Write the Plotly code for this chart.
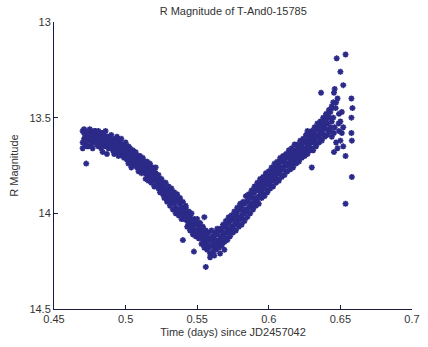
import plotly.graph_objects as go

# Dense light-curve band: times (days since JD2457042) and three magnitude samples per time
t_band = [
    0.470, 0.471, 0.472, 0.473, 0.474, 0.475, 0.476, 0.477, 0.478, 0.479,
    0.480, 0.481, 0.482, 0.483, 0.484, 0.485, 0.486, 0.487, 0.488, 0.489,
    0.490, 0.491, 0.492, 0.493, 0.494, 0.495, 0.496, 0.497, 0.498, 0.499,
    0.500, 0.501, 0.502, 0.503, 0.504, 0.505, 0.506, 0.507, 0.508, 0.509,
    0.510, 0.511, 0.512, 0.513, 0.514, 0.515, 0.516, 0.517, 0.518, 0.519,
    0.520, 0.521, 0.522, 0.523, 0.524, 0.525, 0.526, 0.527, 0.528, 0.529,
    0.530, 0.531, 0.532, 0.533, 0.534, 0.535, 0.536, 0.537, 0.538, 0.539,
    0.540, 0.541, 0.542, 0.543, 0.544, 0.545, 0.546, 0.547, 0.548, 0.549,
    0.550, 0.551, 0.552, 0.553, 0.554, 0.555, 0.556, 0.557, 0.558, 0.559,
    0.560, 0.561, 0.562, 0.563, 0.564, 0.565, 0.566, 0.567, 0.568, 0.569,
    0.570, 0.571, 0.572, 0.573, 0.574, 0.575, 0.576, 0.577, 0.578, 0.579,
    0.580, 0.581, 0.582, 0.583, 0.584, 0.585, 0.586, 0.587, 0.588, 0.589,
    0.590, 0.591, 0.592, 0.593, 0.594, 0.595, 0.596, 0.597, 0.598, 0.599,
    0.600, 0.601, 0.602, 0.603, 0.604, 0.605, 0.606, 0.607, 0.608, 0.609,
    0.610, 0.611, 0.612, 0.613, 0.614, 0.615, 0.616, 0.617, 0.618, 0.619,
    0.620, 0.621, 0.622, 0.623, 0.624, 0.625, 0.626, 0.627, 0.628, 0.629,
    0.630, 0.631, 0.632, 0.633, 0.634, 0.635, 0.636, 0.637, 0.638, 0.639,
    0.640, 0.641, 0.642, 0.643, 0.644,
]
mag_a = [
    13.57, 13.61, 13.64, 13.60, 13.57, 13.62, 13.58, 13.61, 13.63, 13.59,
    13.62, 13.60, 13.63, 13.58, 13.61, 13.59, 13.65, 13.60, 13.63, 13.61,
    13.64, 13.62, 13.66, 13.61, 13.68, 13.63, 13.67, 13.65, 13.70, 13.64,
    13.70, 13.67, 13.69, 13.73, 13.68, 13.71, 13.69, 13.75, 13.72, 13.74,
    13.77, 13.72, 13.78, 13.75, 13.73, 13.80, 13.77, 13.81, 13.76, 13.82,
    13.78, 13.81, 13.85, 13.83, 13.82, 13.88, 13.86, 13.84, 13.90, 13.92,
    13.88, 13.92, 13.94, 13.90, 13.95, 13.92, 13.94, 13.98, 13.95, 14.00,
    14.01, 13.98, 14.00, 14.04, 14.02, 14.05, 14.03, 14.08, 14.06, 14.09,
    14.10, 14.07, 14.09, 14.12, 14.10, 14.13, 14.16, 14.11, 14.18, 14.13,
    14.14, 14.12, 14.18, 14.11, 14.16, 14.14, 14.12, 14.09, 14.15, 14.07,
    14.10, 14.13, 14.05, 14.09, 14.07, 14.03, 14.06, 14.01, 14.04, 14.02,
    13.98, 14.01, 13.99, 13.95, 13.98, 13.94, 13.97, 13.91, 13.95, 13.92,
    13.89, 13.92, 13.87, 13.91, 13.85, 13.88, 13.86, 13.83, 13.85, 13.88,
    13.80, 13.84, 13.79, 13.82, 13.77, 13.80, 13.78, 13.75, 13.77, 13.80,
    13.73, 13.75, 13.78, 13.71, 13.74, 13.69, 13.72, 13.70, 13.73, 13.67,
    13.70, 13.68, 13.65, 13.67, 13.70, 13.63, 13.66, 13.64, 13.61, 13.63,
    13.66, 13.59, 13.62, 13.60, 13.56, 13.59, 13.57, 13.54, 13.56, 13.59,
    13.51, 13.53, 13.57, 13.47, 13.52,
]
mag_b = [
    13.63, 13.58, 13.59, 13.62, 13.65, 13.59, 13.64, 13.60, 13.57, 13.62,
    13.58, 13.65, 13.59, 13.62, 13.64, 13.63, 13.61, 13.62, 13.66, 13.60,
    13.61, 13.67, 13.63, 13.65, 13.64, 13.66, 13.62, 13.69, 13.66, 13.68,
    13.66, 13.72, 13.65, 13.70, 13.72, 13.74, 13.73, 13.71, 13.76, 13.70,
    13.73, 13.76, 13.74, 13.79, 13.77, 13.76, 13.75, 13.78, 13.80, 13.79,
    13.83, 13.79, 13.81, 13.87, 13.86, 13.84, 13.90, 13.88, 13.87, 13.88,
    13.93, 13.90, 13.90, 13.93, 13.93, 13.97, 13.98, 13.94, 14.00, 13.97,
    13.97, 14.03, 13.97, 14.01, 14.06, 14.01, 14.07, 14.04, 14.10, 14.05,
    14.06, 14.11, 14.13, 14.08, 14.14, 14.09, 14.12, 14.15, 14.14, 14.17,
    14.17, 14.16, 14.13, 14.15, 14.10, 14.09, 14.16, 14.13, 14.11, 14.12,
    14.06, 14.08, 14.10, 14.04, 14.03, 14.08, 14.02, 14.05, 13.99, 14.06,
    14.03, 13.97, 14.03, 14.00, 13.94, 13.99, 13.93, 13.96, 13.90, 13.97,
    13.94, 13.88, 13.93, 13.86, 13.89, 13.84, 13.90, 13.87, 13.81, 13.83,
    13.85, 13.81, 13.83, 13.78, 13.81, 13.76, 13.82, 13.79, 13.73, 13.76,
    13.77, 13.72, 13.74, 13.75, 13.70, 13.73, 13.75, 13.68, 13.69, 13.71,
    13.66, 13.72, 13.69, 13.64, 13.66, 13.67, 13.62, 13.68, 13.65, 13.60,
    13.61, 13.63, 13.58, 13.64, 13.60, 13.55, 13.61, 13.58, 13.52, 13.54,
    13.56, 13.49, 13.50, 13.55, 13.44,
]
mag_c = [
    13.66, 13.56, 13.62, 13.65, 13.60, 13.56, 13.61, 13.66, 13.59, 13.57,
    13.64, 13.57, 13.61, 13.66, 13.58, 13.62, 13.57, 13.65, 13.60, 13.64,
    13.59, 13.65, 13.69, 13.63, 13.60, 13.70, 13.65, 13.61, 13.64, 13.71,
    13.63, 13.69, 13.74, 13.66, 13.76, 13.67, 13.75, 13.68, 13.70, 13.78,
    13.70, 13.79, 13.71, 13.77, 13.82, 13.73, 13.83, 13.74, 13.84, 13.76,
    13.86, 13.76, 13.86, 13.80, 13.89, 13.82, 13.84, 13.92, 13.84, 13.94,
    13.86, 13.96, 13.87, 13.98, 13.89, 14.00, 13.90, 14.01, 13.92, 14.03,
    13.94, 14.03, 13.96, 14.07, 13.99, 14.09, 14.00, 14.11, 14.03, 14.12,
    14.03, 14.13, 14.05, 14.16, 14.07, 14.18, 14.09, 14.19, 14.10, 14.21,
    14.09, 14.20, 14.10, 14.19, 14.08, 14.18, 14.08, 14.17, 14.06, 14.15,
    14.04, 14.14, 14.02, 14.12, 14.01, 14.10, 13.99, 14.09, 13.97, 14.07,
    13.95, 14.06, 13.94, 14.04, 13.91, 14.02, 13.90, 14.00, 13.88, 13.98,
    13.86, 13.96, 13.84, 13.95, 13.82, 13.92, 13.81, 13.91, 13.79, 13.89,
    13.78, 13.87, 13.76, 13.86, 13.74, 13.84, 13.73, 13.83, 13.71, 13.81,
    13.70, 13.80, 13.69, 13.78, 13.67, 13.77, 13.66, 13.76, 13.64, 13.74,
    13.64, 13.73, 13.62, 13.71, 13.61, 13.70, 13.59, 13.69, 13.58, 13.67,
    13.57, 13.67, 13.55, 13.65, 13.53, 13.63, 13.52, 13.62, 13.50, 13.60,
    13.48, 13.59, 13.46, 13.57, 13.45,
]

# Scattered tail near the end of the run and isolated outliers
t_extra = [
    0.6455, 0.6470, 0.6467, 0.6510, 0.6488, 0.6455, 0.6500, 0.6520, 0.6455, 0.6536,
    0.6536, 0.6474, 0.6500, 0.6365, 0.6460, 0.6520, 0.6577, 0.6584, 0.6577, 0.6577,
    0.6580, 0.6580, 0.6536, 0.6300, 0.6450, 0.6460, 0.6480, 0.6490, 0.6440, 0.6470,
    0.6490, 0.6500, 0.6480, 0.6510, 0.6450, 0.6520, 0.6270,
    0.4725, 0.4840, 0.4870, 0.5400, 0.5550, 0.5477, 0.5560,
    0.5590, 0.5620, 0.5660, 0.5690,
]
mag_extra = [
    13.37, 13.42, 13.45, 13.47, 13.53, 13.58, 13.62, 13.65, 13.68, 13.70,
    13.17, 13.19, 13.26, 13.37, 13.35, 13.33, 13.40, 13.45, 13.50, 13.58,
    13.62, 13.81, 13.95, 13.76, 13.50, 13.55, 13.40, 13.48, 13.60, 13.63,
    13.57, 13.52, 13.66, 13.58, 13.42, 13.55, 13.57,
    13.74, 13.68, 13.69, 14.14, 14.02, 14.20, 14.28,
    14.23, 14.22, 14.21, 14.19,
]

x_ticks = [0.45, 0.5, 0.55, 0.6, 0.65, 0.7]
x_tick_labels = ["0.45", "0.5", "0.55", "0.6", "0.65", "0.7"]
y_ticks = [13, 13.5, 14, 14.5]
y_tick_labels = ["13", "13.5", "14", "14.5"]

times = t_band + t_band + t_band + t_extra
mags = mag_a + mag_b + mag_c + mag_extra

navy = "#2c2a88"
fig = go.Figure(
    go.Scatter(
        x=times, y=mags, mode="markers",
        marker=dict(symbol="asterisk-open", size=5, color=navy,
                    line=dict(color=navy, width=1.6)),
        showlegend=False,
    )
)

font = "Liberation Sans, Arial, sans-serif"
fig.update_layout(
    width=428, height=347,
    margin=dict(l=54, r=8, t=22, b=38),
    paper_bgcolor="white", plot_bgcolor="white",
    font=dict(family=font, size=11, color="#333333"),
    title=dict(text="R Magnitude of T-And0-15785", x=0.545, xanchor="center",
               y=0.968, yanchor="middle", font=dict(size=11, color="#333333")),
)
fig.update_xaxes(
    range=[0.45, 0.7], tickvals=x_ticks, ticktext=x_tick_labels,
    showline=True, linecolor="#1a1a3a", linewidth=1, mirror=False,
    ticks="inside", ticklen=4, tickcolor="#1a1a3a",
    showgrid=False, zeroline=False,
    title=dict(text="Time (days) since JD2457042", standoff=4, font=dict(size=11)),
)
fig.update_yaxes(
    range=[14.5, 13], tickvals=y_ticks, ticktext=y_tick_labels,
    showline=True, linecolor="#1a1a3a", linewidth=1, mirror=False,
    ticks="inside", ticklen=4, tickcolor="#1a1a3a",
    showgrid=False, zeroline=False,
    title=dict(text="R Magnitude", standoff=8, font=dict(size=11)),
)

fig.write_html("out.html")
